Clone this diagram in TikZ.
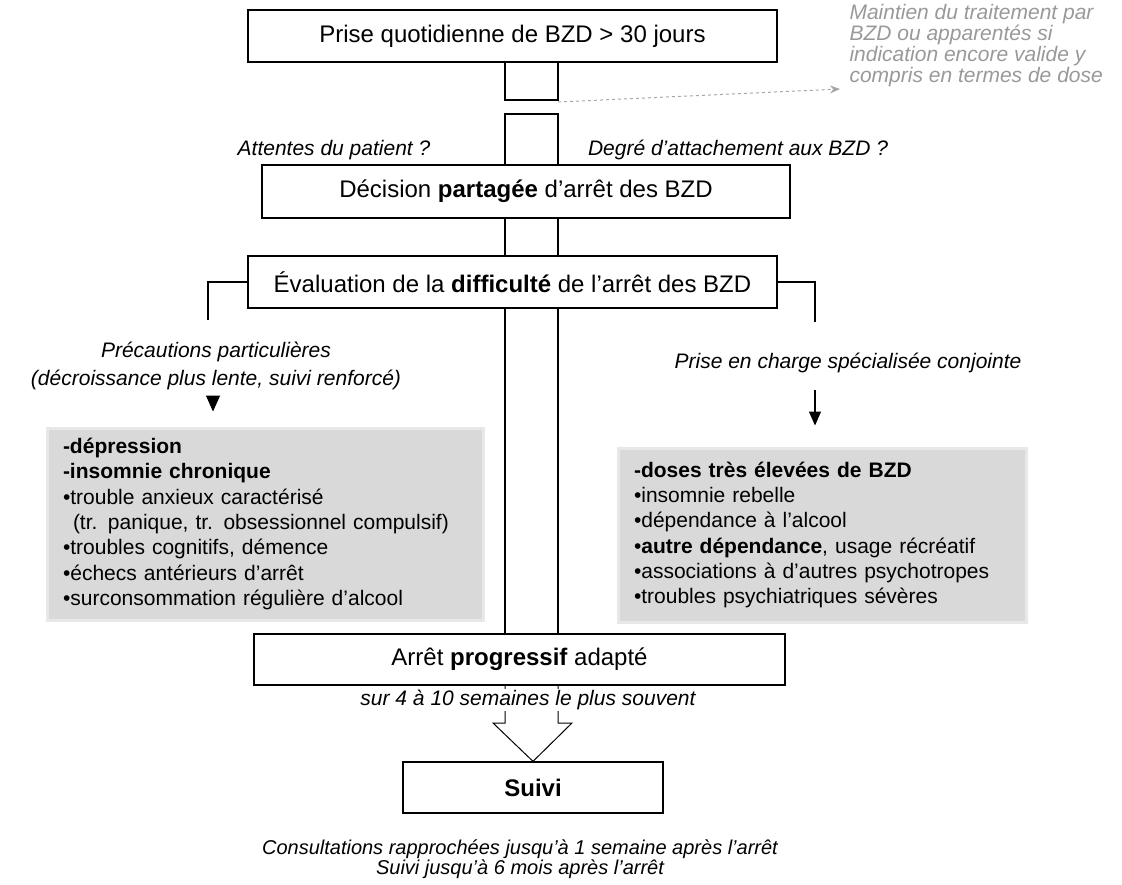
\documentclass[tikz,border=0pt]{standalone}
\usepackage{fontspec}
\setmainfont{Liberation Sans}
\usetikzlibrary{arrows.meta}

\begin{document}
\begin{tikzpicture}[x=1pt, y=-1pt,
    stepbox/.style={draw, line width=1.3pt, fill=white, inner sep=0pt, font=\fontsize{24}{28}\selectfont},
    remark/.style={font=\fontsize{21}{28}\selectfont\itshape, align=center},
    riskbox/.style={fill=black!15, draw=black!9, line width=3pt, align=left, inner xsep=16pt, inner ysep=0pt, font=\fontsize{21}{25.3}\selectfont},
    shaft/.style={draw, line width=1.3pt}]
    \useasboundingbox (0,0) rectangle (1122,884);
    % main column
    \node[stepbox, minimum width=529pt, minimum height=52pt] (start) at (512.5,36) {Prise quotidienne de BZD > 30 jours};
    \node[stepbox, minimum width=528pt, minimum height=53pt] (share) at (526,191.5) {Décision \textbf{partagée} d'arrêt des BZD};
    \node[stepbox, minimum width=529pt, minimum height=52pt] (eval) at (512.5,282) {Évaluation de la \textbf{difficulté} de l'arrêt des BZD};
    \node[stepbox, minimum width=531pt, minimum height=51pt] (stop) at (519.5,659.5) {Arrêt \textbf{progressif} adapté};
    \node[stepbox, minimum width=260pt, minimum height=51pt] (suivi) at (533,787.5) {\textbf{Suivi}};
    % shaft between the boxes
    \coordinate (sl) at (505,0);
    \coordinate (sr) at (558,0);
    \coordinate (gapA) at (531,100);
    \coordinate (gapB) at (531,114);
    \draw[shaft] (sl |- start.south) rectangle (sr |- gapA);
    \draw[shaft] (sl |- gapB) rectangle (sr |- share.north);
    \draw[shaft] (sl |- share.south) rectangle (sr |- eval.north);
    \draw[shaft] (sl |- eval.south) rectangle (sr |- stop.north);
    \draw[shaft, line width=1pt] (sl |- stop.south) -- (505,723) -- (493,723) -- (suivi.north) -- (572,723) -- (558,723) -- (sr |- stop.south);
    % side remark on the top
    \node[anchor=west, align=left, text=black!40, font=\fontsize{21}{21}\selectfont\itshape] (keep) at (846,46) {Maintien du traitement par\\BZD ou apparentés si\\indication encore valide y\\compris en termes de dose};
    \coordinate (keeptip) at (840,89);
    \draw[dashed, black!35, line width=1pt, -{Stealth[length=10pt, width=8pt]}] ([yshift=-2pt]sr |- gapA) -- (keeptip);
    \node[remark] (wish) at (334,150) {Attentes du patient ?};
    \node[remark] (bond) at (738,150) {Degré d'attachement aux BZD ?};
    % two branches
    \draw[line width=1.3pt] (eval.west) -| (208,320);
    \draw[line width=1.3pt] (eval.east) -| (815,322);
    \node[remark] (prec) at (216,366) {Précautions particulières\\(décroissance plus lente, suivi renforcé)};
    \node[remark] (conj) at (848,363) {Prise en charge spécialisée conjointe};
    \node[riskbox, text width=404pt, minimum height=192pt] (precbox) at (265,524) {%
        \textbf{-dépression}\\
        \textbf{-insomnie chronique}\\
        •trouble anxieux caractérisé\\
        \hspace*{10pt}(tr. panique, tr. obsessionnel compulsif)\\
        •troubles cognitifs, démence\\
        •échecs antérieurs d'arrêt\\
        •surconsommation régulière d'alcool};
    \node[riskbox, text width=376pt, minimum height=174pt] (conjbox) at (822,535) {%
        \textbf{-doses très élevées de BZD}\\
        •insomnie rebelle\\
        •dépendance à l'alcool\\
        •\textbf{autre dépendance}, usage récréatif\\
        •associations à d'autres psychotropes\\
        •troubles psychiatriques sévères};
    \coordinate (larr) at (213,397);
    \coordinate (rarr) at (815,390);
    \draw[line width=1pt, -{Triangle[length=16pt, width=14pt]}, shorten >=15pt] (larr) -- (larr |- precbox.north);
    \draw[line width=1.2pt, -{Triangle[length=14pt, width=12pt]}, shorten >=21pt] (rarr) -- (rarr |- conjbox.north);
    % below the stop
    \node[remark, fill=white, inner sep=1pt] (weeks) at (528,700) {sur 4 à 10 semaines le plus souvent};
    \node[remark, font=\fontsize{20}{18}\selectfont\itshape] (consult) at (520,859) {Consultations rapprochées jusqu'à 1 semaine après l'arrêt\\Suivi jusqu'à 6 mois après l'arrêt};
\end{tikzpicture}
\end{document}
